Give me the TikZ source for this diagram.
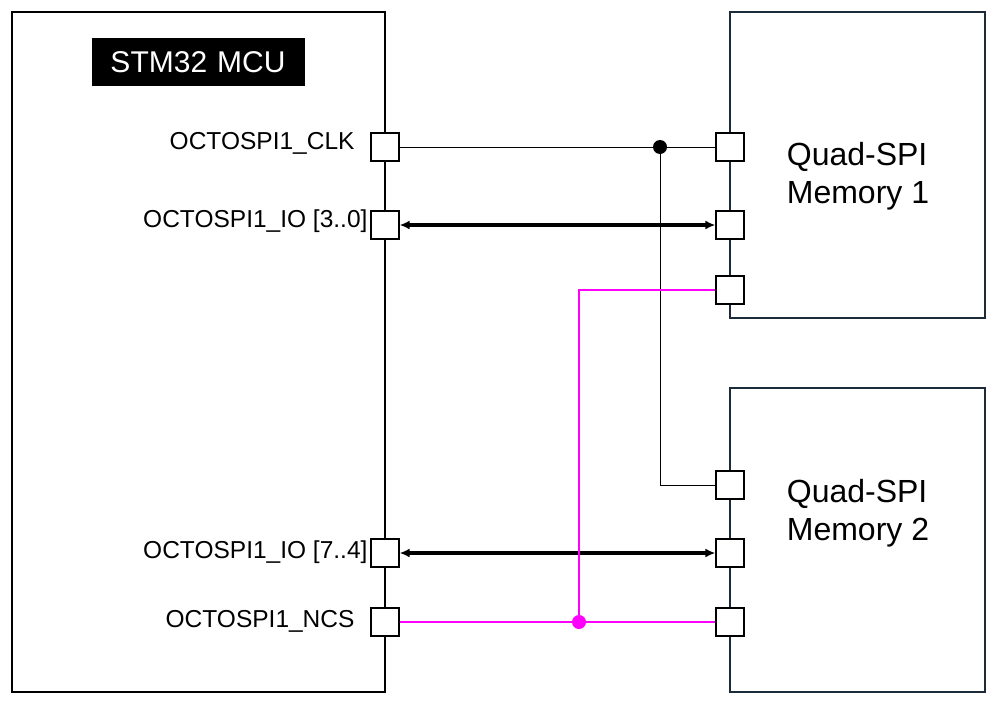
\documentclass[tikz,border=0pt]{standalone}
\usepackage{fontspec}
\setmainfont{Liberation Sans}
\usetikzlibrary{arrows.meta}
\definecolor{fuchsia}{RGB}{255,0,255}
\definecolor{memframe}{RGB}{28,43,57}
\begin{document}
\begin{tikzpicture}[
  x=1pt, y=-1pt,
  block/.style={draw, line width=1.5pt},
  pin/.style={draw, fill=white, line width=1.2pt, minimum size=28pt, inner sep=0pt},
  plabel/.style={anchor=east, font=\fontsize{24.5}{28}\selectfont},
  mlabel/.style={align=left, font=\fontsize{32}{38}\selectfont},
  clk/.style={draw, line width=0.8pt},
  bus/.style={draw, line width=3.2pt, {Latex[length=10pt,width=9pt]}-{Latex[length=10pt,width=9pt]}},
  ncs/.style={draw=fuchsia, line width=1.8pt},
  dot/.style={circle, fill, inner sep=0pt, minimum size=14pt}
  ]
	\useasboundingbox (0,0) rectangle (999,707);
	\draw[block] (12,12) rectangle (385,692);
	\draw[block, draw=memframe] (730,12) rectangle (985,318);
	\draw[block, draw=memframe] (730,388) rectangle (985,692);
	\node[fill=black, text=white, minimum width=213pt, minimum height=48pt, font=\fontsize{30}{34}\selectfont] (mcu) at (198,62) {STM32\,\,MCU};

	\node[mlabel] (m1) at (858,176) {Quad-SPI\\Memory 1};
	\node[mlabel] (m2) at (858,513) {Quad-SPI\\Memory 2};

	% MCU pins
	\node[pin] (clk) at (385,147) {};
	\node[pin] (iolo) at (385,225) {};
	\node[pin] (iohi) at (385,553) {};
	\node[pin] (ncs) at (385,622) {};
	\node[plabel] at (358,143) {OCTOSPI1\_CLK};
	\node[plabel] at (371,221) {OCTOSPI1\_IO [3..0]};
	\node[plabel] at (371,552) {OCTOSPI1\_IO [7..4]};
	\node[plabel] at (358,621) {OCTOSPI1\_NCS};

	% memory pins
	\node[pin] (clka) at (730,147) {};
	\node[pin] (ioa) at (730,225) {};
	\node[pin] (ncsa) at (730,290) {};
	\node[pin] (clkb) at (730,485) {};
	\node[pin] (iob) at (730,553) {};
	\node[pin] (ncsb) at (730,622) {};

	\node[dot] (cj) at (660,147) {};
	\node[dot, fuchsia] (nj) at (579,622) {};

	\draw[clk] (clk) -- (cj) -- (clka);
	\draw[clk] (cj) |- (clkb);
	\draw[bus] (iolo) -- (ioa);
	\draw[bus] (iohi) -- (iob);
	\draw[ncs] (ncs) -- (nj) -- (ncsb);
	\draw[ncs] (nj) |- (ncsa);
\end{tikzpicture}
\end{document}
